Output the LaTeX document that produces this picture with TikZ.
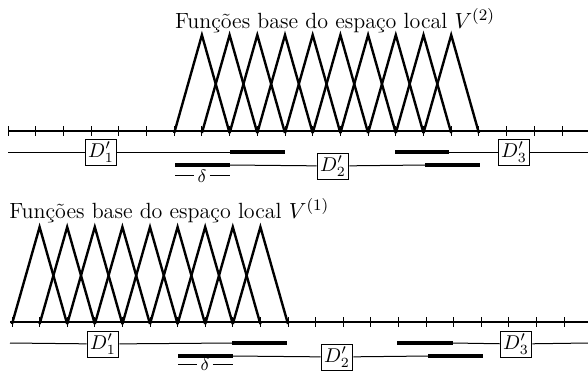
\documentclass[tikz,border=0pt]{standalone}
\begin{document}
\begin{tikzpicture}[x=0.5pt,y=-0.5pt,
  axisline/.style={line width=0.7pt},
  tickmark/.style={line width=0.5pt},
  hat/.style={line width=1.2pt},
  thinline/.style={line width=0.5pt},
  thickline/.style={line width=1.6pt},
  dbox/.style={draw,line width=0.5pt,fill=white,inner sep=1.5pt,minimum height=11pt,minimum width=15pt},
  titletext/.style={inner sep=0pt,font=\fontsize{11}{13}\selectfont}]
\useasboundingbox (0,0) rectangle (588,371);
% ---------- top ----------
\node[titletext] (title2) at (335,21) {Funções base do espaço local $V^{(2)}$};
\coordinate (ta) at (8,131);
\coordinate (tb) at (588,131);
\draw[axisline] (ta) -- (tb);
\foreach \k in {0,...,20}{
  \draw[tickmark] (8+27.7*\k,126) -- (8+27.7*\k,136);
}
\foreach \k in {7,...,16}{
  \draw[hat,line join=miter] (8+27.7*\k-27.7,133) -- (8+27.7*\k,35) -- (8+27.7*\k+27.7,133);
}
% domain lines top
\node[dbox] (d1t) at (101,152) {$D'_1$};
\node[dbox] (d2t) at (333,166) {$D'_2$};
\node[dbox] (d3t) at (514,152) {$D'_3$};
\coordinate (t1a) at (8,152);
\coordinate (t1b) at (230,152);
\coordinate (t1c) at (285,152);
\coordinate (t1d) at (395,152);
\coordinate (t1e) at (449,152);
\coordinate (t1f) at (588,152);
\draw[thinline] (t1a) -- (d1t) -- (t1b);
\draw[thickline] (t1b) -- (t1c);
\draw[thickline] (t1d) -- (t1e);
\draw[thinline] (t1e) -- (d3t) -- (t1f);
\coordinate (t2a) at (175,165);
\coordinate (t2b) at (230,165);
\coordinate (t2c) at (425,165);
\coordinate (t2d) at (480,165);
\draw[thickline] (t2a) -- (t2b);
\draw[thinline] (t2b) -- (d2t) -- (t2c);
\draw[thickline] (t2c) -- (t2d);
\node[inner sep=0pt,font=\small] (dlt) at (202,176) {$\delta$};
\coordinate (dlta) at (175,175);
\coordinate (dltb) at (230,175);
\draw[thinline] (dlta) -- ([xshift=-1.5pt]dlt.west |- dlta);
\draw[thinline] ([xshift=1.5pt]dlt.east |- dltb) -- (dltb);
% ---------- bottom ----------
\node[titletext,anchor=west] (title1) at (9,211) {Funções base do espaço local $V^{(1)}$};
\coordinate (ba) at (10,322);
\coordinate (bb) at (588,322);
\draw[axisline] (ba) -- (bb);
\foreach \k in {0,...,20}{
  \draw[tickmark] (12+27.6*\k,317) -- (12+27.6*\k,327);
}
\foreach \k in {1,...,9}{
  \draw[hat,line join=miter] (12+27.6*\k-27.6,324) -- (12+27.6*\k,227) -- (12+27.6*\k+27.6,324);
}
\node[dbox] (d1b) at (103,344) {$D'_1$};
\node[dbox] (d2b) at (337,357) {$D'_2$};
\node[dbox] (d3b) at (516,344) {$D'_3$};
\coordinate (b1a) at (10,343);
\coordinate (b1b) at (232,343);
\coordinate (b1c) at (287,343);
\coordinate (b1d) at (397,343);
\coordinate (b1e) at (453,343);
\coordinate (b1f) at (588,343);
\draw[thinline] (b1a) -- (d1b) -- (b1b);
\draw[thickline] (b1b) -- (b1c);
\draw[thickline] (b1d) -- (b1e);
\draw[thinline] (b1e) -- (d3b) -- (b1f);
\coordinate (b2a) at (178,356);
\coordinate (b2b) at (233,356);
\coordinate (b2c) at (428,356);
\coordinate (b2d) at (483,356);
\draw[thickline] (b2a) -- (b2b);
\draw[thinline] (b2b) -- (d2b) -- (b2c);
\draw[thickline] (b2c) -- (b2d);
\node[inner sep=0pt,font=\small] (dlb) at (205,364) {$\delta$};
\coordinate (dlba) at (178,364);
\coordinate (dlbb) at (233,364);
\draw[thinline] (dlba) -- ([xshift=-1.5pt]dlb.west |- dlba);
\draw[thinline] ([xshift=1.5pt]dlb.east |- dlbb) -- (dlbb);
\end{tikzpicture}
\end{document}
